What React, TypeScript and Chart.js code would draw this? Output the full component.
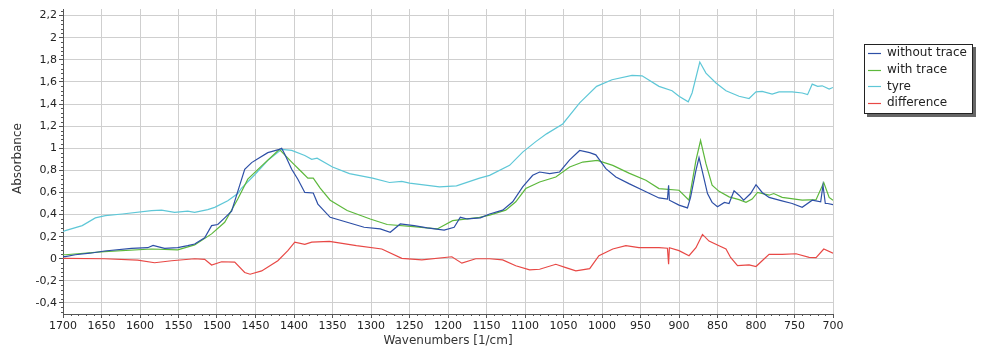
import React, { useEffect, useRef } from "react";
import { Chart, registerables } from "chart.js";
Chart.register(...registerables);

const FONT = "'DejaVu Sans', Verdana, sans-serif";

const seriesNames = ["without trace", "with trace", "tyre", "difference"];
const seriesColors = ["#2d4fa6", "#5db83c", "#5ec7d7", "#e84845"];

const xTickValues = [1700, 1650, 1600, 1550, 1500, 1450, 1400, 1350, 1300, 1250, 1200, 1150, 1100, 1050, 1000, 950, 900, 850, 800, 750, 700];
const yTickValues = [-0.4, -0.2, 0, 0.2, 0.4, 0.6, 0.8, 1, 1.2, 1.4, 1.6, 1.8, 2, 2.2];

const xTitle = "Wavenumbers [1/cm]";
const yTitle = "Absorbance";

// [wavenumber, absorbance]
const withoutTrace: [number, number][] = [
  [1700, 0.02], [1697, 0.02], [1684, 0.036], [1665, 0.05], [1646, 0.07], [1611, 0.094], [1590, 0.1], [1583, 0.12],
  [1577, 0.11], [1568, 0.094], [1551, 0.1], [1538, 0.118], [1529, 0.133], [1516, 0.19], [1507, 0.3], [1499, 0.31],
  [1490, 0.37], [1481, 0.43], [1473, 0.61], [1464, 0.81], [1455, 0.87], [1447, 0.905], [1434, 0.96], [1419, 0.99],
  [1416, 1.0], [1412, 0.945], [1403, 0.81], [1395, 0.72], [1386, 0.6], [1375, 0.595], [1369, 0.495], [1353, 0.375],
  [1331, 0.33], [1309, 0.285], [1288, 0.27], [1275, 0.24], [1262, 0.315], [1244, 0.3], [1227, 0.28], [1205, 0.26],
  [1192, 0.285], [1184, 0.375], [1175, 0.36], [1158, 0.37], [1146, 0.405], [1129, 0.44], [1116, 0.515], [1103, 0.65],
  [1090, 0.755], [1081, 0.785], [1068, 0.77], [1055, 0.785], [1042, 0.895], [1029, 0.98], [1016, 0.96], [1008, 0.94],
  [995, 0.815], [982, 0.74], [965, 0.68], [947, 0.62], [926, 0.55], [915, 0.54], [913.5, 0.665], [912.5, 0.53],
  [900, 0.485], [889, 0.46], [885, 0.555], [878, 0.8], [874, 0.915], [870, 0.8], [863, 0.59], [857, 0.51], [850, 0.47],
  [841, 0.51], [835, 0.5], [828.5, 0.615], [822, 0.575], [816, 0.53], [807, 0.59], [800, 0.67], [792, 0.6],
  [783, 0.555], [770, 0.53], [753, 0.5], [740, 0.465], [727, 0.53], [716, 0.515], [713, 0.665], [710, 0.5],
  [707, 0.5], [700, 0.49],
];

const withTrace: [number, number][] = [
  [1700, 0.036], [1697, 0.036], [1646, 0.065], [1585, 0.088], [1551, 0.08], [1529, 0.125], [1507, 0.225], [1490, 0.33],
  [1473, 0.54], [1460, 0.72], [1442, 0.84], [1425, 0.95], [1419, 0.99], [1403, 0.875], [1390, 0.785], [1382, 0.73],
  [1375, 0.73], [1366, 0.64], [1353, 0.53], [1331, 0.436], [1301, 0.36], [1279, 0.31], [1245, 0.29], [1214, 0.27],
  [1194, 0.345], [1159, 0.375], [1146, 0.395], [1125, 0.44], [1112, 0.515], [1099, 0.635], [1081, 0.695], [1060, 0.74],
  [1042, 0.83], [1025, 0.875], [1006, 0.89], [986, 0.845], [965, 0.775], [943, 0.71], [926, 0.635], [900, 0.62],
  [887, 0.53], [878, 0.89], [872, 1.07], [865, 0.86], [857, 0.665], [848, 0.61], [835, 0.56], [822, 0.535],
  [813, 0.51], [805, 0.54], [798, 0.6], [783, 0.575], [777, 0.59], [766, 0.555], [740, 0.53], [722, 0.535],
  [712, 0.69], [705, 0.555], [700, 0.53],
];

const tyre: [number, number][] = [
  [1700, 0.245], [1697, 0.255], [1675, 0.3], [1658, 0.37], [1645, 0.39], [1623, 0.405], [1585, 0.436], [1572, 0.44],
  [1555, 0.42], [1538, 0.43], [1529, 0.42], [1512, 0.445], [1503, 0.465], [1486, 0.525], [1473, 0.59], [1468, 0.64],
  [1451, 0.76], [1434, 0.89], [1416, 0.99], [1403, 0.98], [1386, 0.935], [1377, 0.9], [1370, 0.91], [1350, 0.83],
  [1328, 0.77], [1298, 0.73], [1276, 0.69], [1260, 0.7], [1250, 0.685], [1211, 0.65], [1189, 0.66], [1159, 0.73],
  [1146, 0.755], [1120, 0.845], [1103, 0.965], [1086, 1.06], [1072, 1.13], [1051, 1.22], [1029, 1.41], [1007, 1.56],
  [987, 1.62], [961, 1.66], [948, 1.655], [926, 1.56], [909, 1.52], [900, 1.47], [888, 1.42], [883, 1.5], [873, 1.78],
  [865, 1.68], [852, 1.59], [839, 1.52], [822, 1.47], [809, 1.45], [800, 1.51], [792, 1.515], [779, 1.49], [770, 1.51],
  [753, 1.51], [740, 1.5], [733, 1.485], [727, 1.58], [720, 1.56], [714, 1.565], [705, 1.535], [700, 1.55],
];

const difference: [number, number][] = [
  [1700, 0.003], [1697, 0.003], [1646, 0.0], [1603, -0.012], [1581, -0.036], [1559, -0.018], [1529, 0.0], [1516, -0.005],
  [1507, -0.057], [1494, -0.027], [1477, -0.03], [1464, -0.124], [1457, -0.14], [1442, -0.11], [1421, -0.018],
  [1408, 0.073], [1399, 0.15], [1386, 0.13], [1377, 0.15], [1354, 0.157], [1319, 0.118], [1286, 0.088], [1260, 0.003],
  [1234, -0.01], [1195, 0.018], [1182, -0.04], [1164, 0.0], [1146, 0.0], [1129, -0.01], [1112, -0.063], [1094, -0.1],
  [1081, -0.095], [1060, -0.05], [1047, -0.08], [1034, -0.11], [1016, -0.09], [1004, 0.027], [986, 0.088], [969, 0.118],
  [952, 0.1], [926, 0.1], [915, 0.095], [913.5, -0.05], [912.5, 0.1], [900, 0.073], [887, 0.027], [878, 0.1],
  [869.5, 0.22], [861, 0.16], [848, 0.118], [839, 0.088], [833, 0.012], [824, -0.063], [809, -0.055], [800, -0.07],
  [792, -0.018], [783, 0.04], [766, 0.04], [748, 0.045], [731, 0.012], [722, 0.01], [712, 0.088], [700, 0.05],
];

const seriesData = [withoutTrace, withTrace, tyre, difference];

const fmt = (v: number) => String(Number(v.toFixed(1))).replace(".", ",");

const overlay = {
  id: "overlay",
  afterDraw(chart: any) {
    const ctx = chart.ctx as CanvasRenderingContext2D;
    const { left, right, top, bottom } = chart.chartArea;
    const xs = chart.scales.x;
    const ys = chart.scales.y;
    ctx.save();
    ctx.strokeStyle = "#555";
    ctx.lineWidth = 1;
    ctx.beginPath();
    for (let v = 700; v <= 1700; v += 10) {
      if (v % 50 === 0) continue;
      const px = Math.round(xs.getPixelForValue(v)) + 0.5;
      ctx.moveTo(px, bottom);
      ctx.lineTo(px, bottom + 2);
    }
    for (let i = -12; i <= 56; i++) {
      if (i % 5 === 0) continue;
      const v = i * 0.04;
      const py = Math.round(ys.getPixelForValue(v)) + 0.5;
      if (py < top || py > bottom) continue;
      ctx.moveTo(left - 2, py);
      ctx.lineTo(left, py);
    }
    ctx.stroke();

    ctx.fillStyle = "#333";
    ctx.font = `12px ${FONT}`;
    ctx.textAlign = "center";
    ctx.textBaseline = "middle";
    ctx.fillText(xTitle, (left + right) / 2, 341);
    ctx.save();
    ctx.translate(18, (top + bottom) / 2 - 3);
    ctx.rotate(-Math.PI / 2);
    ctx.fillText(yTitle, 0, 0);
    ctx.restore();

    const bx = 864, by = 44, bw = 109, bh = 70;
    ctx.fillStyle = "#666";
    ctx.fillRect(bx + 3, by + 3, bw, bh);
    ctx.fillStyle = "#fff";
    ctx.fillRect(bx, by, bw, bh);
    ctx.strokeStyle = "#222";
    ctx.strokeRect(bx + 0.5, by + 0.5, bw - 1, bh - 1);
    ctx.textAlign = "left";
    ctx.font = `12px ${FONT}`;
    seriesNames.forEach((name, i) => {
      const yy = 53 + i * 16.7;
      ctx.strokeStyle = seriesColors[i];
      ctx.lineWidth = 1.2;
      ctx.beginPath();
      ctx.moveTo(868, Math.round(yy) + 0.5);
      ctx.lineTo(881, Math.round(yy) + 0.5);
      ctx.stroke();
      ctx.fillStyle = "#222";
      ctx.fillText(name, 887, yy);
    });
    ctx.restore();
  },
};

export default function App() {
  const ref = useRef<HTMLCanvasElement>(null);
  useEffect(() => {
    if (!ref.current) return;
    const chart = new Chart(ref.current, {
      type: "line",
      data: {
        datasets: seriesNames.map((name, i) => ({
          label: name,
          data: seriesData[i].map(([x, y]) => ({ x, y })),
          borderColor: seriesColors[i],
          backgroundColor: seriesColors[i],
          borderWidth: 1.2,
          pointRadius: 0,
          tension: 0,
          fill: false,
        })),
      },
      options: {
        responsive: false,
        animation: false,
        events: [],
        layout: { padding: { top: 9, right: 151, left: 0, bottom: 0 } },
        plugins: { legend: { display: false }, tooltip: { enabled: false } },
        scales: {
          x: {
            type: "linear",
            reverse: true,
            min: 700,
            max: 1700,
            afterBuildTicks: (s: any) => { s.ticks = xTickValues.map((v) => ({ value: v })); },
            afterFit: (s: any) => { s.height = 37; },
            grid: { color: "#cfcfcf", tickColor: "#555", tickLength: 4, lineWidth: 1 },
            border: { color: "#555", width: 1 },
            ticks: { color: "#222", font: { family: FONT, size: 11 }, padding: 2, maxRotation: 0, autoSkip: false, callback: (v: any) => String(v) },
          },
          y: {
            type: "linear",
            min: -0.5,
            max: 2.26,
            afterBuildTicks: (s: any) => { s.ticks = yTickValues.map((v) => ({ value: v })); },
            afterFit: (s: any) => { s.width = 63; },
            grid: { color: "#cfcfcf", tickColor: "#555", tickLength: 4, lineWidth: 1 },
            border: { color: "#555", width: 1 },
            ticks: { color: "#222", font: { family: FONT, size: 11 }, padding: 2, autoSkip: false, callback: (v: any) => fmt(Number(v)) },
          },
        },
      },
      plugins: [overlay],
    });
    return () => chart.destroy();
  }, []);
  return (
    <div style={{ position: "absolute", left: 0, top: 0, width: 984, height: 351, background: "#fff" }}>
      <canvas ref={ref} width={984} height={351} style={{ display: "block" }} />
    </div>
  );
}
